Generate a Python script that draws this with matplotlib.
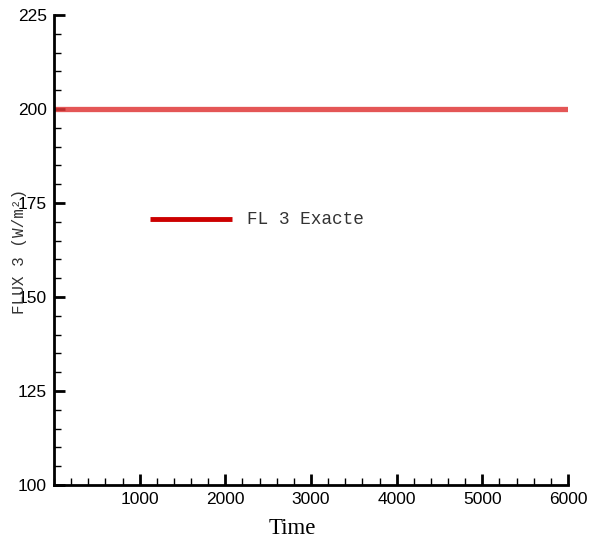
import numpy as np
from matplotlib import pyplot as plt
from matplotlib.ticker import MultipleLocator

# data
time = [0, 6000]
flux_exacte = [200, 200]
series_label = "FL 3 Exacte"
y_label = "FLUX 3 (W/m²)"
x_label = "Time"
x_ticks = [1000, 2000, 3000, 4000, 5000, 6000]
y_ticks = [100, 125, 150, 175, 200, 225]

fig = plt.figure(figsize=(5.89, 5.42), dpi=100)
ax = fig.add_axes([54 / 589, 1 - 485 / 542, (568 - 54) / 589, (485 - 15) / 542])

ax.plot(time, flux_exacte, color=(0.88, 0.22, 0.22), alpha=0.85, lw=3.8, solid_capstyle='butt')

ax.set_xlim(0, 6000)
ax.set_ylim(100, 225)
ax.set_xticks(x_ticks)
ax.set_yticks(y_ticks)
ax.xaxis.set_minor_locator(MultipleLocator(200))
ax.yaxis.set_minor_locator(MultipleLocator(5))

for side in ['top', 'right']:
    ax.spines[side].set_visible(False)
for side in ['left', 'bottom']:
    ax.spines[side].set_linewidth(2)

ax.tick_params(which='major', direction='in', length=8, width=2, labelsize=12.5,
               pad=5)
ax.tick_params(which='minor', direction='in', length=5, width=1)
for lab in ax.get_xticklabels() + ax.get_yticklabels():
    lab.set_family('Liberation Sans')

# legend drawn by hand
fig.lines.append(plt.Line2D([150 / 589, 232 / 589], [1 - 219 / 542] * 2,
                            color=(0.8, 0.0, 0.0), lw=3.5, solid_capstyle='butt',
                            transform=fig.transFigure))
fig.text(247 / 589, 1 - 219 / 542, series_label, family='Liberation Mono',
         fontsize=12.8, va='center', ha='left', color='#333333')

fig.text(20 / 589, 1 - 251 / 542, y_label, family='Liberation Mono', fontsize=11.5,
         rotation=90, va='center', ha='center', color='#333333')
fig.text(292 / 589, 1 - 529 / 542, x_label, family='Liberation Serif', fontsize=16.5,
         va='center', ha='center')

fig.savefig('out.png', dpi=100)
